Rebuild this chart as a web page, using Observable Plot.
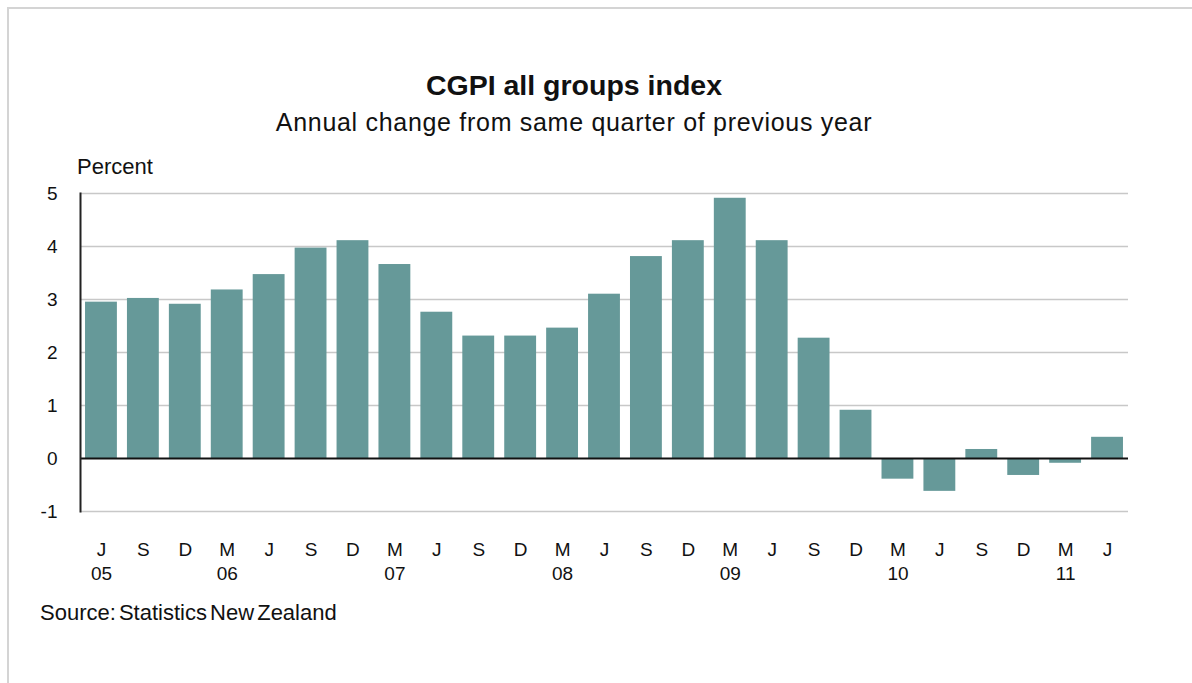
<!DOCTYPE html>
<html>
<head>
<meta charset="utf-8">
<script src="https://cdn.jsdelivr.net/npm/d3@7"></script>
<script src="https://cdn.jsdelivr.net/npm/@observablehq/plot@0.6"></script>
<style>
  html, body { margin: 0; padding: 0; background: #fff; overflow: hidden; }
  #page { position: relative; width: 1192px; height: 683px; overflow: hidden; font-family: "Liberation Sans", Arial, sans-serif; color: #111; }
  #border { position: absolute; left: 7px; top: 7px; width: 1400px; height: 900px; border-left: 2px solid #d4d4d4; border-top: 2px solid #d4d4d4; }
  #chart { position: absolute; left: 0; top: 0; }
  .txt { position: absolute; line-height: 1; white-space: nowrap; }
  #title { left: 0; width: 1148px; text-align: center; top: 71px; font-size: 28.5px; font-weight: bold; }
  #subtitle { left: 0; width: 1148px; text-align: center; top: 110px; font-size: 25px; letter-spacing: 0.7px; }
  #ylabel { left: 77px; top: 155.5px; font-size: 22px; }
  #source { left: 40px; top: 601.5px; font-size: 22px; word-spacing: -3px; }
</style>
</head>
<body>
<div id="page">
  <div id="border"></div>
  <div id="chart"></div>
  <div class="txt" id="title">CGPI all groups index</div>
  <div class="txt" id="subtitle">Annual change from same quarter of previous year</div>
  <div class="txt" id="ylabel">Percent</div>
  <div class="txt" id="source">Source: Statistics New Zealand</div>
</div>
<script>
const periods = ["Jun 05","Sep 05","Dec 05","Mar 06","Jun 06","Sep 06","Dec 06","Mar 07","Jun 07","Sep 07","Dec 07","Mar 08","Jun 08","Sep 08","Dec 08","Mar 09","Jun 09","Sep 09","Dec 09","Mar 10","Jun 10","Sep 10","Dec 10","Mar 11","Jun 11"];
const quarterLabels = ["J","S","D","M","J","S","D","M","J","S","D","M","J","S","D","M","J","S","D","M","J","S","D","M","J"];
const yearLabels = ["05","","","06","","","","07","","","","08","","","","09","","","","10","","","","11",""];
const values = [2.95, 3.02, 2.91, 3.18, 3.47, 3.97, 4.11, 3.66, 2.76, 2.31, 2.31, 2.46, 3.10, 3.81, 4.11, 4.91, 4.11, 2.27, 0.91, -0.39, -0.62, 0.17, -0.32, -0.09, 0.40];
const yTicks = [-1, 0, 1, 2, 3, 4, 5];

const data = periods.map((p, i) => ({period: p, value: values[i]}));
const labelOf = new Map(periods.map((p, i) => [p, quarterLabels[i] + (yearLabels[i] ? "\n" + yearLabels[i] : "")]));

const chart = Plot.plot({
  width: 1192,
  height: 683,
  marginLeft: 80,
  marginRight: 64,
  marginTop: 193,
  marginBottom: 172,
  style: {fontFamily: "'Liberation Sans', Arial, sans-serif", fontSize: "19px", color: "#111", background: "transparent"},
  x: {type: "band", domain: periods, paddingInner: 0.24, paddingOuter: 0.12, round: false},
  y: {domain: [-1, 5]},
  marks: [
    Plot.gridY(yTicks.filter(d => d !== 0), {stroke: "#c8c8c8", strokeOpacity: 1, strokeWidth: 1.5}),
    Plot.barY(data, {x: "period", y: "value", fill: "#669999"}),
    Plot.ruleY([0], {stroke: "#111", strokeWidth: 2}),
    Plot.frame({anchor: "left", stroke: "#222", strokeWidth: 2}),
    Plot.axisY(yTicks, {tickSize: 0, tickPadding: 23, label: null, tickFormat: d => String(d), fill: "#111"}),
    Plot.axisX({tickSize: 0, tickPadding: 27, label: null, tickFormat: d => labelOf.get(d), lineHeight: 1.27, fill: "#111"})
  ]
});
document.getElementById("chart").appendChild(chart);
</script>
</body>
</html>
